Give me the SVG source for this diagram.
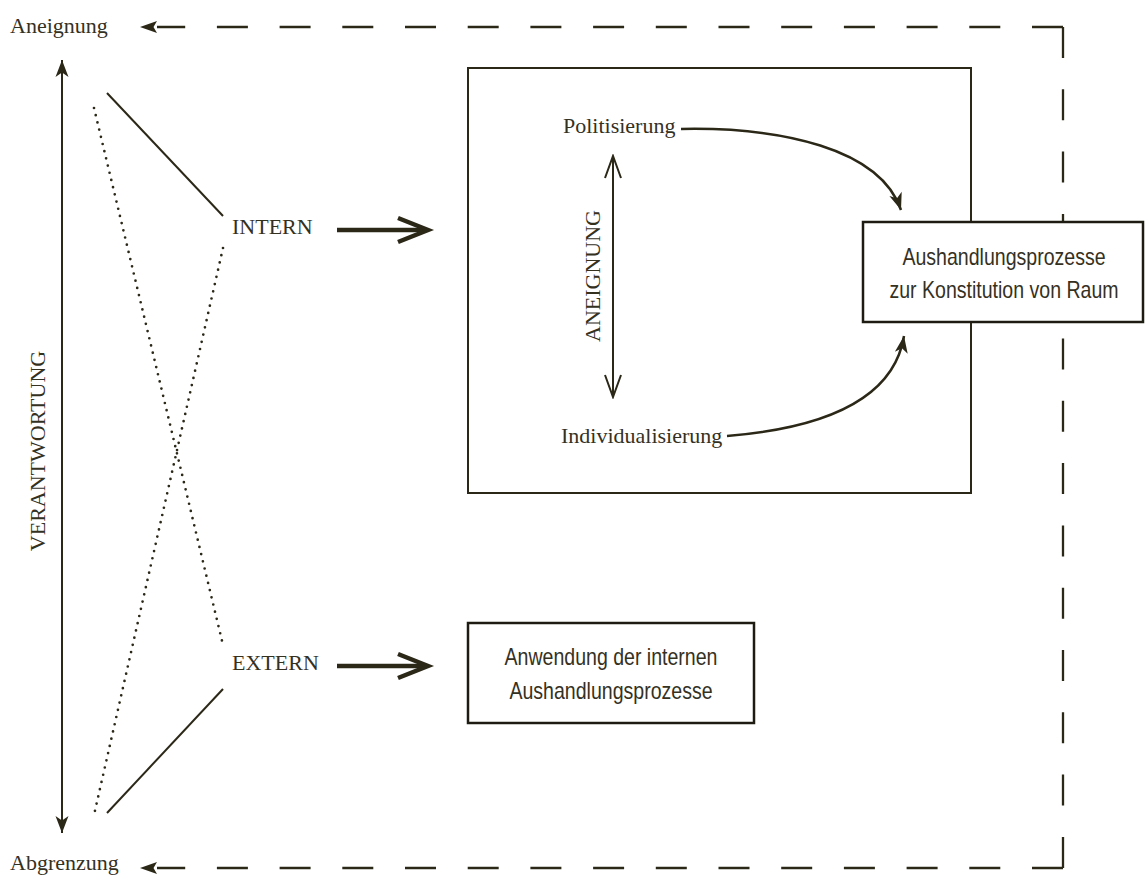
<svg xmlns="http://www.w3.org/2000/svg" width="1146" height="875" viewBox="0 0 1146 875">
<style>
.serif{font-family:"Liberation Serif","Times New Roman",serif;font-size:22px;fill:#35311f}
.sans{font-family:"Liberation Sans",Arial,sans-serif;font-size:23px;fill:#35311f;text-anchor:middle}
.ln{stroke:#2b2818;stroke-width:2;fill:none}
.dash{stroke:#2b2818;stroke-width:2.3;fill:none;stroke-dasharray:31 31.7}
.dot{stroke:#2b2818;stroke-width:2.7;fill:none;stroke-linecap:round;stroke-dasharray:0 7.4}
.box{fill:#fff;stroke:#1e1c12;stroke-width:2.5}
.thick{stroke:#2b2818;stroke-width:4.5;fill:none}
.fillh{fill:#2b2818}
</style>
<defs>
<marker id="barb" markerUnits="userSpaceOnUse" viewBox="-18 -7 19 14" refX="0" refY="0" markerWidth="19" markerHeight="14" orient="auto-start-reverse">
<path d="M0,0 L-17,-6.5 L-12.5,0 L-17,6.5 Z" fill="#2b2818"/>
</marker>
<marker id="vee" markerUnits="userSpaceOnUse" viewBox="-24 -10 26 20" refX="0" refY="0" markerWidth="26" markerHeight="20" orient="auto-start-reverse">
<path d="M-22,-8 L0,0 L-22,8" fill="none" stroke="#2b2818" stroke-width="2"/>
</marker>
</defs>

<g id="frame">
<path class="dash" d="M1063,27 L157,27"/>
<path d="M140,27 L157,21 L153.5,27 L157,33 Z" class="fillh"/>
<path class="dash" style="stroke-dasharray:31 31.3" d="M1063,27 L1063,868"/>
<path class="dash" d="M1063,868 L157,868"/>
<path d="M140,868 L157,862 L153.5,868 L157,874 Z" class="fillh"/>
</g>

<g id="connectors">
<path class="ln" d="M62,60 L62,833" marker-start="url(#barb)" marker-end="url(#barb)"/>
<path class="ln" d="M107,93 L223,216"/>
<path class="ln" d="M223,689 L107,813"/>
<path class="dot" d="M94,108 L223,645"/>
<path class="dot" d="M223,248 L94,815"/>
<path class="thick" d="M337,230 L426,230"/>
<path class="thick" d="M398,218 L428,230 L398,242"/>
<path class="thick" d="M337,666 L426,666"/>
<path class="thick" d="M398,654 L428,666 L398,678"/>
</g>

<g id="left-labels">
<text class="serif" x="10" y="33">Aneignung</text>
<text class="serif" x="10" y="870">Abgrenzung</text>
<text class="serif" text-anchor="middle" transform="translate(45,451) rotate(-90)">VERANTWORTUNG</text>
</g>

<g id="intern">
<text class="serif" x="232" y="234">INTERN</text>
</g>
<g id="extern">
<text class="serif" x="232" y="670">EXTERN</text>
</g>

<g id="aneignung-box">
<rect x="468" y="68" width="503" height="425" class="ln"/>
<text class="serif" x="563" y="133">Politisierung</text>
<text class="serif" x="561" y="443">Individualisierung</text>
<path class="ln" d="M613,156 L613,397" marker-start="url(#vee)" marker-end="url(#vee)"/>
<text class="serif" text-anchor="middle" transform="translate(600,276) rotate(-90)">ANEIGNUNG</text>
<path class="ln" style="stroke-width:2.5" d="M681,129 C780,127 880,148 901,210" marker-end="url(#barb)"/>
<path class="ln" style="stroke-width:2.5" d="M727,436 C800,430 892,410 904,336" marker-end="url(#barb)"/>
</g>

<g id="aushandlung">
<rect x="863" y="222" width="280" height="100" class="box"/>
<text class="sans" transform="translate(1004,265) scale(0.85,1)">Aushandlungsprozesse</text>
<text class="sans" transform="translate(1004,298) scale(0.85,1)">zur Konstitution von Raum</text>
</g>

<g id="anwendung">
<rect x="468" y="623" width="286" height="100" class="box"/>
<text class="sans" transform="translate(611,665) scale(0.85,1)">Anwendung der internen</text>
<text class="sans" transform="translate(611,699) scale(0.85,1)">Aushandlungsprozesse</text>
</g>
</svg>
